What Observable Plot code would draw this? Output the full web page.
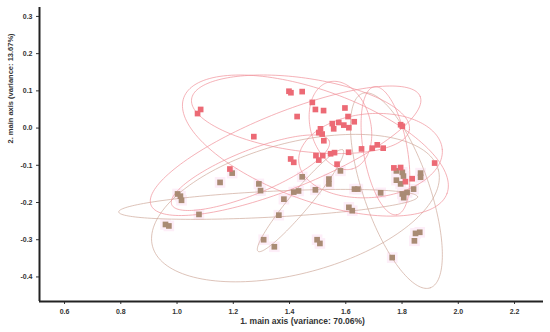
<!DOCTYPE html>
<html><head><meta charset="utf-8">
<script src="https://cdn.jsdelivr.net/npm/d3@7"></script>
<script src="https://cdn.jsdelivr.net/npm/@observablehq/plot@0.6"></script>
<style>body{margin:0;background:#fff}</style>
</head><body><div id="chart"></div>
<script>
// axis labels & ticks
const xLabel = "1. main axis (variance: 70.06%)";
const yLabel = "2. main axis (variance: 13.67%)";
const xTicks = [0.6, 0.8, 1.0, 1.2, 1.4, 1.6, 1.8, 2.0, 2.2];
const yTicks = [0.3, 0.2, 0.1, 0.0, -0.1, -0.2, -0.3, -0.4];
const xDomain = [0.511, 2.303];
const yDomain = [-0.466, 0.324];

// group 1 (red)
const redX = [1.073,1.084,1.398,1.405,1.445,1.481,1.492,1.521,1.597,1.427,1.608,1.273,1.510,1.504,1.516,1.522,1.552,1.575,1.557,1.593,1.611,1.630,1.404,1.415,1.494,1.504,1.518,1.546,1.560,1.569,1.610,1.656,1.694,1.712,1.733,1.795,1.801,1.916,1.188,1.771,1.795,1.812,1.836];
const redY = [0.039,0.050,0.099,0.095,0.098,0.069,0.050,0.047,0.054,0.031,0.031,-0.023,-0.002,-0.012,-0.016,-0.034,0.012,0.015,-0.002,0.008,0.001,0.017,-0.083,-0.092,-0.074,-0.086,-0.074,-0.069,-0.066,-0.097,-0.065,-0.056,-0.054,-0.045,-0.054,0.009,0.005,-0.094,-0.110,-0.107,-0.106,-0.144,-0.136];

// group 2 (brown)
const brownX = [1.196,1.153,1.291,1.297,1.445,1.540,1.540,1.581,1.002,1.012,1.016,1.380,1.415,1.432,1.492,1.631,1.643,1.724,1.780,1.801,1.805,1.780,1.795,1.866,1.866,1.841,1.801,1.806,1.818,1.078,0.959,0.971,1.362,1.611,1.623,1.308,1.346,1.498,1.508,1.848,1.863,1.844,1.765];
const brownY = [-0.121,-0.146,-0.150,-0.168,-0.131,-0.137,-0.150,-0.115,-0.177,-0.183,-0.194,-0.191,-0.172,-0.169,-0.166,-0.164,-0.164,-0.174,-0.115,-0.119,-0.129,-0.140,-0.150,-0.121,-0.132,-0.164,-0.177,-0.187,-0.173,-0.232,-0.259,-0.263,-0.234,-0.213,-0.222,-0.300,-0.319,-0.300,-0.310,-0.283,-0.280,-0.303,-0.348];

// confidence ellipses: centre, semi-axes (x units), rotation (deg), group
const ellCx = [1.324,1.421,1.780,1.492,1.386,1.688,1.581,1.741,1.439,1.261,1.439];
const ellCy = [-0.205,-0.215,-0.168,-0.047,-0.061,-0.074,0.007,-0.061,-0.195,-0.120,0.037];
const ellA  = [0.532,0.526,0.366,0.498,0.516,0.256,0.160,0.231,0.235,0.302,0.391];
const ellB  = [0.046,0.232,0.117,0.196,0.135,0.149,0.107,0.078,0.036,0.078,0.130];
const ellAngle = [-2.9,-15,70.8,20,-22,-5,75,80,-50,-22,8];
const ellGroup = ["brown","brown","brown","red","red","red","red","red","brown","red","red"];

const W = 550, H = 332, mt = 7, mr = 7, mb = 31, ml = 39;
const aspect = ((H - mt - mb) / (yDomain[1] - yDomain[0])) / ((W - ml - mr) / (xDomain[1] - xDomain[0]));

const red = redX.map((x, i) => ({x, y: redY[i]}));
const brown = brownX.map((x, i) => ({x, y: brownY[i]}));
const ellPts = [];
ellCx.forEach((cx, i) => {
  const phi = ellAngle[i] * Math.PI / 180;
  for (let k = 0; k <= 160; k++) {
    const t = 2 * Math.PI * k / 160;
    const ox = ellA[i] * Math.cos(t) * Math.cos(phi) - ellB[i] * Math.sin(t) * Math.sin(phi);
    const oy = ellA[i] * Math.cos(t) * Math.sin(phi) + ellB[i] * Math.sin(t) * Math.cos(phi);
    ellPts.push({id: i, group: ellGroup[i], x: cx + ox, y: ellCy[i] - oy / aspect});
  }
});

const fmt = d => d.toFixed(1);
const chart = Plot.plot({
  width: W, height: H,
  marginTop: mt, marginRight: mr, marginBottom: mb, marginLeft: ml,
  style: {fontFamily: "'Liberation Sans', Arial, sans-serif", fontSize: "7px", fontWeight: "bold", color: "#333", background: "#fff"},
  x: {domain: xDomain},
  y: {domain: yDomain},
  marks: [
    Plot.dot(brown, {x: "x", y: "y", symbol: "square", r: 6, fill: "#fdeef8"}),
    Plot.line(ellPts.filter(d => d.group === "brown"), {x: "x", y: "y", z: "id", stroke: "#cfa99b", strokeWidth: 0.7}),
    Plot.line(ellPts.filter(d => d.group === "red"), {x: "x", y: "y", z: "id", stroke: "#f0909a", strokeWidth: 0.7}),
    Plot.dot(brown, {x: "x", y: "y", symbol: "square", r: 3.2, fill: "#a98b74"}),
    Plot.dot(red, {x: "x", y: "y", symbol: "square", r: 3.2, fill: "#ec6a75"}),
    Plot.axisX({ticks: xTicks, tickFormat: fmt, tickSize: 3, tickPadding: 5, label: null, stroke: "#333", fill: "#333"}),
    Plot.axisY({ticks: yTicks, tickFormat: fmt, tickSize: 3, tickPadding: 4, label: null, stroke: "#333", fill: "#333"}),
    Plot.ruleX([xDomain[0]], {stroke: "#222", strokeWidth: 2}),
    Plot.ruleY([yDomain[0]], {stroke: "#222", strokeWidth: 2}),
    Plot.text([xLabel], {frameAnchor: "bottom", dy: 22, dx: 11, fontSize: 8.5, fontWeight: "bold", fill: "#333"}),
    Plot.text([yLabel], {frameAnchor: "left", dx: -29, dy: -11, rotate: -90, fontSize: 7.5, fontWeight: "bold", fill: "#333"})
  ]
});
document.getElementById("chart").appendChild(chart);
</script>
</body></html>
